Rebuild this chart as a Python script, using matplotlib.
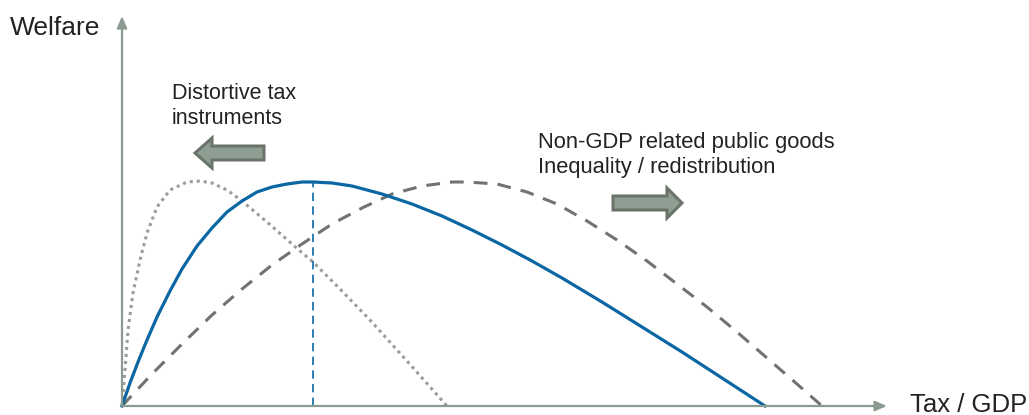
import numpy as np
import matplotlib
matplotlib.use("Agg")
import matplotlib.pyplot as plt
import matplotlib.patches as mpatches

plt.rcParams['font.family'] = ['Liberation Sans', 'DejaVu Sans']

# welfare curves (x = tax/GDP, y = welfare, origin at axes corner)
dist_x = [0, 3, 6, 11, 18, 25, 35, 48, 65, 78, 90, 105, 120, 145, 178, 191, 218, 248, 285, 325]
dist_y = [0, 36, 76, 113, 146, 173, 199, 216, 224, 225, 223, 216, 205, 184, 155, 144, 117, 86, 45, 0]

opt_x = [0, 8, 16, 25, 35, 48, 60, 75, 90, 105, 120, 135, 150, 165, 180, 191,
         210, 230, 260, 290, 320, 350, 380, 410, 440, 480, 520, 560, 600, 643]
opt_y = [0, 23, 44, 66, 89, 115, 137, 160, 178, 194, 205, 214, 219, 222, 224, 224,
         223, 220, 212, 202, 190, 176, 161, 145, 128, 104, 79, 54, 28, 0]

pub_x = [0, 30, 60, 90, 120, 150, 180, 210, 240, 270, 300, 330, 345,
         375, 405, 435, 465, 495, 525, 555, 585, 615, 645, 675, 700]
pub_y = [0, 32, 62, 91, 117, 141, 162, 182, 198, 212, 220, 224, 224,
         222, 214, 202, 185, 166, 145, 122, 99, 74, 48, 22, 0]

opt_tax = 191
opt_welfare = 224

axis_col = '#8c9a90'
blue = '#0b67a3'

fig = plt.figure(figsize=(10.29, 4.15), dpi=100)
ax = fig.add_axes([0, 0, 1, 1])
ax.set_xlim(-122, 907)
ax.set_ylim(-9, 406)
ax.axis('off')

# axes with arrow heads
ax.annotate('', xy=(0, 390), xytext=(0, 0),
            arrowprops=dict(arrowstyle='-|>,head_length=0.7,head_width=0.3', color=axis_col, lw=1.6,
                            shrinkA=0, shrinkB=0))
ax.annotate('', xy=(765, 0), xytext=(0, 0),
            arrowprops=dict(arrowstyle='-|>,head_length=0.7,head_width=0.3', color=axis_col, lw=1.6,
                            shrinkA=0, shrinkB=0))

ax.plot(dist_x, dist_y, color='#979e99', lw=2.2, linestyle=(0, (1, 1.3)))
ax.plot(pub_x, pub_y, color='#6f7470', lw=2.2, linestyle=(0, (4.5, 3.3)))
ax.plot(opt_x, opt_y, color=blue, lw=2.3, solid_joinstyle='round')
ax.plot([opt_tax, opt_tax], [0, opt_welfare], color=blue, lw=1.2, linestyle=(0, (5, 3.2)))

# block arrows
arr_kw = dict(length_includes_head=True, facecolor='#8f9e92', edgecolor='#6b7469', lw=2.2)
ax.add_patch(mpatches.FancyArrow(142, 253, -69, 0, width=14, head_width=30, head_length=17, **arr_kw))
ax.add_patch(mpatches.FancyArrow(491, 203, 69, 0, width=14, head_width=30, head_length=15, **arr_kw))

tc = '#222222'
ax.text(-112, 378, 'Welfare', fontsize=19, color=tc, va='center', ha='left')
ax.text(788, -6, 'Tax / GDP', fontsize=18.5, color=tc, va='baseline', ha='left')
ax.text(50, 300, 'Distortive tax\ninstruments', fontsize=15.5, color=tc, va='center', ha='left',
        linespacing=1.25)
ax.text(416, 251, 'Non-GDP related public goods\nInequality / redistribution', fontsize=15.8, color=tc,
        va='center', ha='left', linespacing=1.25)

fig.savefig('out.png', dpi=100)
